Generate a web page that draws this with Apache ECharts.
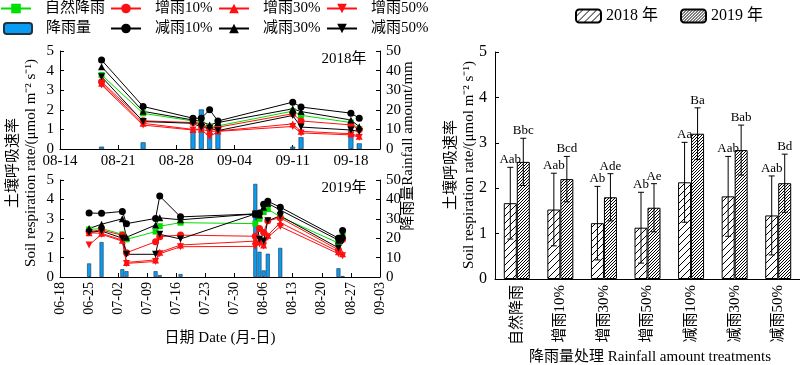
<!DOCTYPE html>
<html><head><meta charset="utf-8">
<script src="https://cdn.jsdelivr.net/npm/echarts@6/dist/echarts.min.js"></script>
<style>html,body{margin:0;padding:0;background:#fff}#c{width:800px;height:365px}</style>
</head><body><div id="c"></div>
<script>
// ---------------- data ----------------
const ticks2018 = ['08-14','08-21','08-28','09-04','09-11','09-18'];
const ticks2019 = ['06-18','06-25','07-02','07-09','07-16','07-23','07-30','08-06','08-13','08-20','08-27','09-03'];

const dates2018 = ['08-19','08-24','08-30','08-31','09-01','09-02','09-11','09-12','09-18','09-19'];
const natural2018 = [3.78, 1.82, 1.43, 1.28, 1.14, 1.18, 1.93, 1.72, 1.35, 1.02];
const inc10_2018  = [3.43, 1.44, 1.35, 1.23, 1.06, 1.11, 1.80, 1.43, 1.23, 1.00];
const inc30_2018  = [3.35, 1.31, 1.00, 1.02, 0.89, 0.92, 1.28, 0.90, 0.78, 0.65];
const inc50_2018  = [3.27, 1.22, 0.97, 0.98, 0.63, 0.90, 1.15, 0.82, 0.72, 0.60];
const dec10_2018  = [4.54, 2.17, 1.57, 1.57, 2.00, 1.43, 2.39, 2.14, 1.83, 1.57];
const dec30_2018  = [4.20, 1.92, 1.48, 1.40, 1.23, 1.35, 2.05, 1.91, 1.48, 1.14];
const dec50_2018  = [3.69, 1.40, 1.31, 1.10, 1.06, 0.94, 1.71, 1.12, 0.97, 0.89];
const rainDates2018 = ['08-19','08-24','08-30','08-31','09-01','09-02','09-11','09-12','09-18','09-19'];
const rain2018 = [1.2, 3.4, 10, 20.2, 12.8, 9.5, 1.2, 6, 10, 2.9];

const dates2019 = ['06-25','06-28','07-03','07-04','07-11','07-12','07-17','08-04','08-05','08-06','08-07','08-10','08-24','08-25'];
const natural2019 = [2.45, 2.50, 2.20, 1.94, 2.34, 2.62, 2.80, 2.75, 3.00, 3.35, 3.50, 3.10, 1.75, 2.10];
const inc10_2019  = [2.35, 2.42, 2.15, 1.25, 1.82, 2.08, 2.16, 2.10, 2.50, 2.30, 2.90, 3.05, 1.40, 1.95];
const inc30_2019  = [2.28, 2.25, 1.90, 0.75, 0.88, 1.27, 1.65, 1.85, 1.85, 1.65, 2.15, 2.80, 1.30, 1.20];
const inc50_2019  = [1.65, 2.20, 1.85, 0.70, 0.80, 1.20, 1.56, 1.58, 1.70, 1.60, 2.05, 2.60, 1.20, 1.10];
const dec10_2019  = [3.30, 3.28, 3.38, 2.75, 3.02, 4.17, 3.10, 3.25, 3.30, 3.75, 3.90, 3.60, 2.00, 2.40];
const dec30_2019  = [2.50, 2.72, 3.00, 2.05, 2.68, 3.05, 2.95, 3.25, 3.20, 3.60, 3.80, 3.45, 1.90, 2.20];
const dec50_2019  = [2.30, 2.37, 2.00, 1.17, 1.17, 2.20, 1.96, 3.25, 1.95, 1.85, 2.90, 3.15, 1.50, 1.85];
const rainDates2019 = ['06-25','06-28','07-03','07-04','07-11','07-12','07-17','08-04','08-05','08-06','08-07','08-10','08-24','08-25'];
const rain2019 = [7, 18, 4, 3, 3, 1, 1.5, 48, 13, 3.4, 12, 15, 4.5, 0.5];

const treatments = ['自然降雨','增雨10%','增雨30%','增雨50%','减雨10%','减雨30%','减雨50%'];
const mean2018 = [1.67, 1.53, 1.23, 1.13, 2.13, 1.82, 1.40];
const sd2018   = [0.79, 0.80, 0.81, 0.78, 0.88, 0.88, 0.87];
const letters2018 = ['Aab','Aab','Ab','Ab','Aa','Aab','Aab'];
const mean2019 = [2.58, 2.20, 1.80, 1.57, 3.20, 2.84, 2.11];
const sd2019   = [0.52, 0.50, 0.52, 0.53, 0.57, 0.55, 0.64];
const letters2019 = ['Bbc','Bcd','Ade','Ae','Ba','Bab','Bd'];

// ---------------- helpers ----------------
const SERIF = '"Liberation Serif","Times New Roman","Noto Sans CJK SC",serif';
function dayOffset(year, md, baseMd) {
  return (Date.UTC(year, +md.slice(0,2)-1, +md.slice(3)) - Date.UTC(year, +baseMd.slice(0,2)-1, +baseMd.slice(3))) / 86400000;
}
function pairs(year, dates, vals, base) { return dates.map((d,i)=>[dayOffset(year,d,base), vals[i]]); }
function hatch(step, width, color) {
  const c = document.createElement('canvas'); c.width = step; c.height = step;
  const g = c.getContext('2d'); g.fillStyle = '#fff'; g.fillRect(0,0,step,step);
  g.strokeStyle = color; g.lineWidth = width; g.beginPath();
  g.moveTo(0, step); g.lineTo(step, 0);
  g.moveTo(-step/2, step/2); g.lineTo(step/2, -step/2);
  g.moveTo(step/2, step*1.5); g.lineTo(step*1.5, step/2);
  g.stroke(); return c;
}

const defs = [
  {name:'自然降雨', color:'#00e000', symbol:'rect', size:6, d18:natural2018, d19:natural2019},
  {name:'增雨10%', color:'#ff1010', symbol:'circle', size:7, d18:inc10_2018, d19:inc10_2019},
  {name:'增雨30%', color:'#ff1010', symbol:'triangle', size:7, d18:inc30_2018, d19:inc30_2019},
  {name:'增雨50%', color:'#ff1010', symbol:'triangle', rot:180, size:7, d18:inc50_2018, d19:inc50_2019},
  {name:'减雨10%', color:'#000', symbol:'circle', size:7, d18:dec10_2018, d19:dec10_2019},
  {name:'减雨30%', color:'#000', symbol:'triangle', size:7, d18:dec30_2018, d19:dec30_2019},
  {name:'减雨50%', color:'#000', symbol:'triangle', rot:180, size:7, d18:dec50_2018, d19:dec50_2019}
];

const axisLine = {show:true, lineStyle:{color:'#000', width:1}};
const tickIn = {show:true, inside:true, length:4, lineStyle:{color:'#000'}};
function valueY(min,max,interval,pos,grid,extra){
  return Object.assign({type:'value', gridIndex:grid, position:pos, min, max, interval,
    axisLine, axisTick:tickIn, splitLine:{show:false},
    axisLabel:{color:'#000', fontFamily:SERIF, fontSize:15, margin:6}}, extra||{});
}
function dateX(grid, max, ticks, rotate){
  return {type:'value', gridIndex:grid, min:0, max, interval:7, axisLine, axisTick:tickIn, splitLine:{show:false},
    axisLabel:{color:'#000', fontFamily:SERIF, fontSize: rotate?14:15, rotate: rotate||0, margin:5,
      showMaxLabel:true,
      formatter: v => (Math.abs(v/7 - Math.round(v/7))<1e-6 && ticks[Math.round(v/7)]) ? ticks[Math.round(v/7)] : ''}};
}

const series = [];
// rainfall bars
series.push({name:'降雨量', type:'bar', xAxisIndex:0, yAxisIndex:1, barWidth:5, z:1,
  itemStyle:{color:'#0a9bf2', borderColor:'#234', borderWidth:0.6},
  data: pairs(2018, rainDates2018, rain2018, ticks2018[0])});
series.push({name:'降雨量', type:'bar', xAxisIndex:1, yAxisIndex:3, barWidth:4, z:1,
  itemStyle:{color:'#0a9bf2', borderColor:'#234', borderWidth:0.6},
  data: pairs(2019, rainDates2019, rain2019, ticks2019[0])});
defs.forEach(d => {
  [[0,0,2018,dates2018,d.d18,ticks2018[0]],[1,2,2019,dates2019,d.d19,ticks2019[0]]].forEach(([xi,yi,yr,dates,vals,base]) => {
    series.push({name:d.name, type:'line', xAxisIndex:xi, yAxisIndex:yi, z:3,
      symbol:d.symbol, symbolSize:d.size, symbolRotate:d.rot||0, showSymbol:true,
      lineStyle:{color:d.color, width:1}, itemStyle:{color:d.color},
      data: pairs(yr, dates, vals, base)});
  });
});

// right panel bars
const pat18 = hatch(7, 1, '#000');
const pat19 = hatch(3, 1, '#000');
series.push({name:'2018 年', type:'bar', xAxisIndex:2, yAxisIndex:4, barWidth:13, barGap:'0%', z:2,
  itemStyle:{color:{image:pat18, repeat:'repeat'}, borderColor:'#000', borderWidth:1}, data: mean2018});
series.push({name:'2019 年', type:'bar', xAxisIndex:2, yAxisIndex:4, barWidth:13, barGap:'0%', z:2,
  itemStyle:{color:{image:pat19, repeat:'repeat'}, borderColor:'#000', borderWidth:1}, data: mean2019});
function errSeries(means, sds, letters, off){
  return {type:'custom', xAxisIndex:2, yAxisIndex:4, z:5, silent:true,
    data: means.map((m,i)=>[i, m, sds[i]]),
    renderItem(params, api){
      const i = api.value(0), m = api.value(1), e = api.value(2);
      const t = api.coord([i, m+e]), b = api.coord([i, m-e]);
      const x = t[0] + off, c = 3;
      const st = {stroke:'#000', lineWidth:1};
      return {type:'group', children:[
        {type:'line', shape:{x1:x,y1:t[1],x2:x,y2:b[1]}, style:st},
        {type:'line', shape:{x1:x-c,y1:t[1],x2:x+c,y2:t[1]}, style:st},
        {type:'line', shape:{x1:x-c,y1:b[1],x2:x+c,y2:b[1]}, style:st},
        {type:'text', x:x, y:t[1]-1, style:{text:letters[params.dataIndex], align:'center', verticalAlign:'bottom',
          font:'13px '+SERIF, fill:'#000'}}
      ]};
    }};
}
series.push(errSeries(mean2018, sd2018, letters2018, -6.5));
series.push(errSeries(mean2019, sd2019, letters2019, 6.5));

const legTxt = {color:'#000', fontFamily:SERIF, fontSize:15, padding:[0,0,0,9]};
function leg(name, left, top, extra){
  return Object.assign({data:[name], left, top, padding:0, itemWidth:30, itemHeight:12, textStyle:legTxt, selectedMode:false}, extra||{});
}
const legends = [
  leg('自然降雨', 0, 1), leg('增雨10%', 110, 1), leg('增雨30%', 218, 1), leg('增雨50%', 326, 1),
  leg('降雨量', 3, 21, {itemWidth:28, itemHeight:11}), leg('减雨10%', 110, 21), leg('减雨30%', 218, 21), leg('减雨50%', 326, 21),
  {data:['2018 年','2019 年'], left:575, top:8, padding:0, itemWidth:25, itemHeight:13, itemGap:22, selectedMode:false,
   textStyle:{color:'#000', fontFamily:SERIF, fontSize:16, padding:[0,0,0,0]}}
];

const txt = (text, x, y, rot, size, extra) => Object.assign({type:'text', x, y, rotation: rot||0,
  style:{text, align:'center', verticalAlign:'middle', font: (size||15)+'px '+SERIF, fill:'#000'}}, extra||{});

const option = {
  animation:false,
  backgroundColor:'#fff',
  legend: legends,
  grid:[
    {left:60, top:51, width:320, height:98, outerBoundsMode:'none'},
    {left:60, top:180, width:320, height:97, outerBoundsMode:'none'},
    {left:495, top:52, width:305, height:227, outerBoundsMode:'none'}
  ],
  xAxis:[
    dateX(0, 38.5, ticks2018, 0),
    dateX(1, 77, ticks2019, 90),
    {type:'category', gridIndex:2, data:treatments, axisLine, axisTick:{show:false},
     axisLabel:{color:'#000', fontFamily:SERIF, fontSize:15, rotate:90, margin:6}}
  ],
  yAxis:[
    valueY(0,5,1,'left',0), valueY(0,50,10,'right',0),
    valueY(0,5,1,'left',1), valueY(0,50,10,'right',1),
    valueY(0,5,1,'left',2,{axisLabel:{color:'#000', fontFamily:SERIF, fontSize:16, margin:8}})
  ],
  series,
  graphic:[
    txt('2018年', 344, 59, 0, 15),
    txt('2019年', 344, 188, 0, 15),
    txt('土壤呼吸速率', 13, 163, Math.PI/2, 15),
    txt('Soil respiration rate/(μmol m⁻² s⁻¹)', 31, 163, Math.PI/2, 15),
    txt('降雨量Rainfall amount/mm', 408, 146, Math.PI/2, 15),
    txt('日期 Date (月-日)', 220, 338, 0, 15),
    txt('土壤呼吸速率', 451, 165, Math.PI/2, 15),
    txt('Soil respiration rate/(μmol m⁻² s⁻¹)', 469, 165, Math.PI/2, 15),
    txt('降雨量处理 Rainfall amount treatments', 650, 357, 0, 15)
  ]
};
const chart = echarts.init(document.getElementById('c'));
chart.setOption(option);
</script></body></html>
